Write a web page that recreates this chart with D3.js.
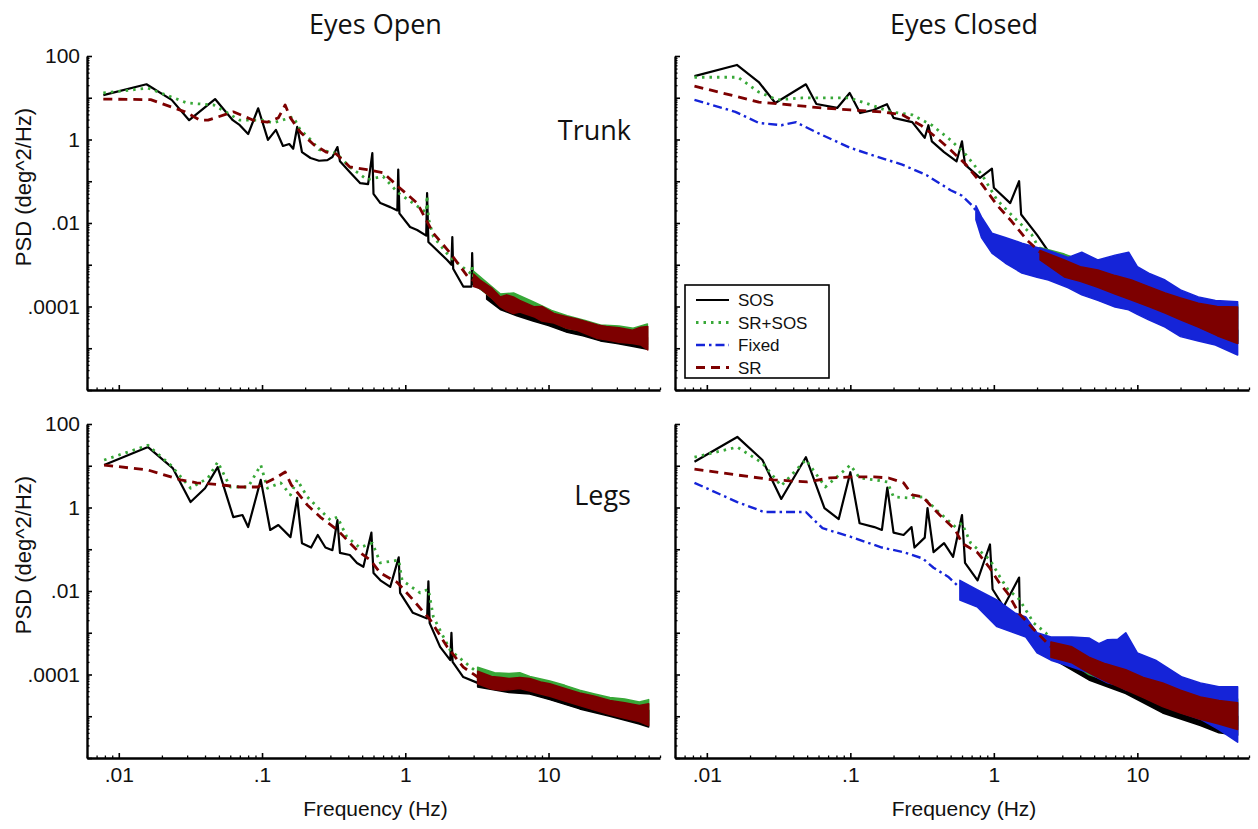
<!DOCTYPE html>
<html>
<head>
<meta charset="utf-8">
<script src="https://d3js.org/d3.v7.min.js"></script>
<style>
  body { margin: 0; background: #fff; }
  svg { display: block; }
  .tick text { font-family: "Liberation Sans", Arial, sans-serif; font-size: 21px; fill: #111; }
</style>
</head>
<body>
<svg id="chart" width="1258" height="829"></svg>
<script>
// ---- data (frequency Hz, PSD deg^2/Hz) ----
// line = [f, psd]; band = [f, low, high] for the dense noisy high-frequency part

var openTrunkSOS = [[0.0078,11.6],[0.0156,21],[0.0234,8.9],[0.031,2.9],[0.047,9.3],[0.0625,2.9],[0.07,2.2],[0.08,1.35],[0.094,5.6],[0.11,0.98],[0.125,1.7],[0.14,0.7],[0.155,0.78],[0.165,0.6],[0.176,2.0],[0.19,0.5],[0.218,0.36],[0.25,0.31],[0.286,0.32],[0.31,0.38],[0.336,0.66],[0.35,0.3],[0.414,0.16],[0.485,0.09],[0.55,0.085],[0.589,0.47],[0.6,0.05],[0.67,0.03],[0.785,0.024],[0.88,0.02],[0.893,0.19],[0.91,0.017],[1.08,0.008],[1.21,0.0068],[1.4,0.005],[1.42,0.052],[1.45,0.0035],[1.96,0.0013],[2.1,0.001],[2.13,0.0046],[2.16,0.0008],[2.54,0.0003],[2.9,0.0003],[2.93,0.0019],[2.97,0.00035],[3.72,0.00021]];
var openTrunkSOSBand = [[3.7,1.5e-4,2.6e-4],[4.6,8.5e-5,1.4e-4],[6,6e-5,1e-4],[7.8,4.5e-5,7e-5],[10,3.5e-5,5.5e-5],[13.5,2.4e-5,4e-5],[17.4,2e-5,3.2e-5],[23,1.5e-5,2.6e-5],[30,1.3e-5,2.2e-5],[39,1.1e-5,1.9e-5],[49,9.5e-6,1.8e-5]];
var openTrunkSRSOS = [[0.0078,13],[0.016,17],[0.03,7.5],[0.046,6.7],[0.07,2.9],[0.1,2.9],[0.12,2.5],[0.165,3.5],[0.185,1.7],[0.22,0.97],[0.25,0.57],[0.33,0.47],[0.41,0.22],[0.54,0.11],[0.7,0.13],[0.89,0.053],[1.4,0.018],[1.42,0.045],[1.45,0.013],[1.57,0.0047],[2.06,0.0015],[2.9,6e-4],[2.93,1e-3],[3.0,5e-4]];
var openTrunkSRSOSBand = [[3,3.5e-4,7e-4],[4.6,1.1e-4,2e-4],[5.7,9e-5,2.1e-4],[7.8,6e-5,1.3e-4],[10.5,4.5e-5,8e-5],[13.5,3e-5,6e-5],[18,2.5e-5,4.6e-5],[23,1.8e-5,3.6e-5],[31,1.6e-5,3.4e-5],[39,1.4e-5,3e-5],[49,1.2e-5,3.8e-5]];
var openTrunkSR = [[0.0078,9.3],[0.0167,9],[0.029,4.6],[0.037,2.9],[0.042,2.9],[0.063,4.6],[0.087,2.9],[0.109,2.6],[0.13,3.3],[0.145,6.7],[0.158,3.3],[0.185,1.5],[0.23,0.75],[0.28,0.5],[0.33,0.45],[0.41,0.22],[0.54,0.19],[0.7,0.16],[0.89,0.075],[1.21,0.03],[1.57,0.0057],[2.06,0.0019],[2.75,5e-4],[3.0,4.2e-4]];
var openTrunkSRBand = [[3.0,3e-4,6e-4],[3.33,2.7e-4,4.3e-4],[4,1.6e-4,2.8e-4],[4.59,9.9e-5,1.7e-4],[5.1,8e-5,1.9e-4],[5.68,6.8e-5,1.7e-4],[6.3,7.4e-5,1.4e-4],[7.9,5.7e-5,9.9e-5],[9,4.5e-5,1e-4],[10.9,4e-5,6.8e-5],[13.4,3e-5,5.7e-5],[15.8,2.7e-5,5e-5],[18.4,2.2e-5,4.3e-5],[22,1.7e-5,3.6e-5],[25.3,1.6e-5,3.3e-5],[31,1.4e-5,3.1e-5],[38.6,1.3e-5,2.7e-5],[44,1.2e-5,3.2e-5],[49.3,9.1e-6,3.3e-5]];

var closedTrunkSOS = [[0.0082,33],[0.0162,61],[0.023,23.8],[0.03,7.5],[0.049,21],[0.058,7.1],[0.081,5.7],[0.099,13],[0.117,4.3],[0.145,5.1],[0.18,7],[0.2,3.3],[0.27,2.6],[0.33,1.1],[0.35,2.2],[0.37,0.9],[0.45,0.5],[0.55,0.3],[0.6,0.9],[0.63,0.25],[0.8,0.12],[0.97,0.2],[1.0,0.07],[1.3,0.03],[1.5,0.1],[1.55,0.016],[2.0,5.2e-3],[2.5,1.7e-3]];
var closedTrunkSOSBand = [[2.5,8e-4,2e-3],[3.5,4e-4,9e-4],[5.3,2.1e-4,4.3e-4],[9,1e-4,2.2e-4],[15.6,4.3e-5,9.7e-5],[26,2.4e-5,5.5e-5],[35,1.6e-5,4e-5],[50,1.3e-5,2.7e-5]];
var closedTrunkSRSOS = [[0.0082,31],[0.0165,31],[0.023,13.7],[0.031,8.9],[0.046,9.9],[0.063,9.9],[0.099,9.9],[0.14,6.7],[0.19,4.6],[0.27,3.9],[0.37,2.2],[0.5,0.97],[0.64,0.43],[0.83,0.14],[1.05,0.036],[1.33,0.0155],[1.84,5.2e-3],[2.1,2.2e-3]];
var closedTrunkSRSOSBand = [[2.1,1.5e-3,2.6e-3],[3.1,6e-4,1.8e-3],[5.3,3.3e-4,9e-4],[9.1,1.6e-4,5e-4],[15.6,8e-5,2.4e-4],[26.6,3.6e-5,1.4e-4],[50,1.5e-5,1.1e-4]];
var closedTrunkFixed = [[0.0082,8.9],[0.0158,4.6],[0.023,2.5],[0.033,2.2],[0.042,2.6],[0.046,2.2],[0.063,1.3],[0.1,0.63],[0.14,0.43],[0.23,0.25],[0.34,0.14],[0.5,0.061],[0.6,0.045],[0.7,0.027],[0.75,0.02]];
var closedTrunkFixedBand = [[0.75,0.012,0.026],[0.82,0.0045,0.014],[0.97,0.0019,0.0057],[1.2,0.0011,0.0045],[1.57,6.3e-4,3.3e-3],[2.0,5e-4,2.6e-3],[2.4,4.3e-4,2.2e-3],[3.3,2.8e-4,1.5e-3],[4.1,1.9e-4,2e-3],[5.3,1.4e-4,1.3e-3],[7,9.7e-5,1.7e-3],[8.7,8.3e-5,2e-3],[10,6.5e-5,9e-4],[12,4.8e-5,6.3e-4],[15.6,3.2e-5,4.3e-4],[20,1.9e-5,2.5e-4],[26.6,1.5e-5,1.7e-4],[35,1.2e-5,1.4e-4],[50,6.9e-6,1.3e-4]];
var closedTrunkSR = [[0.0082,19],[0.0165,10.5],[0.023,7.9],[0.039,6.7],[0.063,5.7],[0.1,5.1],[0.165,4.6],[0.23,3.9],[0.31,2.2],[0.4,1.1],[0.5,0.56],[0.64,0.25],[0.83,0.083],[1.05,0.027],[1.33,0.011],[1.7,3.9e-3],[2.1,2e-3]];
var closedTrunkSRBand = [[2.1,1.3e-3,2.2e-3],[3.1,5.1e-4,1.3e-3],[4,4e-4,9e-4],[5.3,2.9e-4,7.5e-4],[7,2e-4,5.5e-4],[9.1,1.43e-4,4.3e-4],[12,1e-4,3e-4],[15.6,7e-5,2.1e-4],[20,4.8e-5,1.6e-4],[26.6,3.2e-5,1.2e-4],[36,2e-5,1e-4],[50,1.3e-5,9.7e-5]];

var openLegsSOS = [[0.0079,10.4],[0.016,28],[0.0238,8.8],[0.0317,1.35],[0.04,2.9],[0.049,9.3],[0.063,0.59],[0.073,0.66],[0.08,0.34],[0.098,4.6],[0.114,0.29],[0.13,0.38],[0.158,0.195],[0.176,1.7],[0.19,0.14],[0.22,0.11],[0.245,0.22],[0.277,0.11],[0.31,0.095],[0.336,0.5],[0.35,0.082],[0.41,0.073],[0.46,0.047],[0.51,0.038],[0.58,0.25],[0.6,0.027],[0.67,0.018],[0.785,0.0125],[0.9,0.064],[0.92,0.009],[1.13,0.003],[1.42,0.0022],[1.45,0.017],[1.48,0.0017],[1.75,4.6e-4],[2.06,2.2e-4],[2.1,1e-3],[2.14,2e-4],[2.54,8.7e-5],[3.2,6.3e-5]];
var openLegsSOSBand = [[3.2,5e-5,9e-5],[5.3,3.7e-5,7e-5],[7.4,3.4e-5,6.5e-5],[10.2,2.5e-5,4.5e-5],[16.5,1.5e-5,2.8e-5],[26.8,1e-5,2e-5],[43,6.5e-6,1.4e-5],[50,5.5e-6,1.4e-5]];
var openLegsSRSOS = [[0.0079,13.7],[0.016,31],[0.023,10.4],[0.0317,2.9],[0.042,5.1],[0.049,12.3],[0.06,3.1],[0.08,3.1],[0.098,10.4],[0.109,2.9],[0.135,3.9],[0.158,2],[0.176,4.6],[0.207,1.8],[0.255,0.87],[0.3,0.5],[0.336,0.59],[0.39,0.2],[0.48,0.11],[0.59,0.14],[0.67,0.047],[0.9,0.055],[0.95,0.018],[1.27,0.009],[1.45,0.011],[1.57,0.0024],[2.06,3.8e-4],[3.2,1.1e-4]];
var openLegsSRSOSBand = [[3.2,8e-5,1.5e-4],[4.2,6e-5,1.1e-4],[5.3,5e-5,1.05e-4],[6.3,5.5e-5,1.1e-4],[7.4,4.5e-5,9e-5],[10.2,3.5e-5,7e-5],[13,2.6e-5,5.5e-5],[16.5,2e-5,4.2e-5],[21,1.6e-5,3.4e-5],[26.8,1.3e-5,2.8e-5],[34,1.1e-5,2.6e-5],[43,9e-6,2.2e-5],[50,8e-6,2.5e-5]];
var openLegsSR = [[0.0079,10.4],[0.016,7.9],[0.027,4.6],[0.035,3.9],[0.051,3.5],[0.07,3.1],[0.093,3.1],[0.109,4.1],[0.128,5.4],[0.145,7.1],[0.16,3.5],[0.207,1.15],[0.255,0.59],[0.336,0.29],[0.39,0.17],[0.46,0.095],[0.57,0.055],[0.67,0.027],[0.88,0.016],[1.13,0.0062],[1.5,0.002],[1.96,4.6e-4],[2.54,1.5e-4],[3.2,8.7e-5]];
var openLegsSRBand = [[3.2,6e-5,1.2e-4],[4,4.5e-5,9e-5],[4.7,4.2e-5,8.5e-5],[5.3,4.3e-5,8e-5],[6.3,4.6e-5,8.5e-5],[7.4,4e-5,8e-5],[8.8,3.4e-5,6.6e-5],[10.2,3e-5,6e-5],[13,2.3e-5,4.6e-5],[16.5,1.8e-5,3.6e-5],[21,1.4e-5,3e-5],[26.8,1.1e-5,2.4e-5],[34,9e-6,2.1e-5],[43,7.5e-6,1.8e-5],[50,6e-6,2e-5]];

var closedLegsSOS = [[0.0082,12.5],[0.0163,49],[0.0244,13.7],[0.033,1.6],[0.049,16],[0.066,0.97],[0.083,0.53],[0.1,7],[0.116,0.42],[0.147,0.34],[0.166,0.29],[0.181,3],[0.2,0.25],[0.235,0.22],[0.267,0.34],[0.28,0.11],[0.33,0.19],[0.345,0.97],[0.38,0.085],[0.45,0.14],[0.52,0.066],[0.6,0.66],[0.63,0.047],[0.77,0.018],[0.94,0.13],[0.98,0.011],[1.17,0.0042],[1.5,0.021],[1.52,0.0024],[1.9,1e-3],[2.5,3.4e-4]];
var closedLegsSOSBand = [[2.5,2.5e-4,4e-4],[4.6,7.4e-5,2.2e-4],[8.3,3.5e-5,9e-5],[15,1.2e-5,4.3e-5],[27.5,6e-6,2e-5],[37,4e-6,1.2e-5],[50,3.5e-6,1e-5]];
var closedLegsSRSOS = [[0.0082,16],[0.0163,28],[0.0244,11.6],[0.033,3.3],[0.049,14],[0.067,3.1],[0.1,10.4],[0.116,5.1],[0.147,4.6],[0.181,4.1],[0.2,1.8],[0.25,1.7],[0.32,1.8],[0.42,0.74],[0.54,0.34],[0.6,0.42],[0.69,0.14],[0.94,0.056],[1.1,0.022],[1.25,0.011],[1.5,0.0064],[1.9,0.0017],[2.3,1e-3],[2.5,6.8e-4]];
var closedLegsSRSOSBand = [[2.5,4e-4,7e-4],[4.6,1e-4,3e-4],[8.3,5e-5,1.2e-4],[15,2e-5,6e-5],[27.5,1e-5,3.5e-5],[50,6e-6,2.6e-5]];
var closedLegsFixed = [[0.0082,3.9],[0.0163,1.35],[0.025,0.78],[0.049,0.78],[0.064,0.32],[0.1,0.2],[0.166,0.11],[0.235,0.085],[0.32,0.06],[0.38,0.036],[0.48,0.022],[0.58,0.012]];
var closedLegsFixedBand = [[0.58,0.0061,0.018],[0.77,0.0041,0.0106],[1.05,0.0014,0.0061],[1.4,9.9e-4,0.003],[1.67,7.9e-4,0.0024],[2.0,3.3e-4,1e-3],[2.5,2.2e-4,7.9e-4],[3.5,1.5e-4,7.9e-4],[4.6,1.1e-4,7.5e-4],[5.4,8e-5,5.5e-4],[6.2,6.3e-5,6.8e-4],[7.3,5.5e-5,7e-4],[8.3,4.3e-5,1e-3],[10,3.6e-5,3.3e-4],[13.4,2.1e-5,2.2e-4],[20.5,1.2e-5,8.7e-5],[27.5,8.5e-6,6.3e-5],[37,4.8e-6,5.1e-5],[50,2.4e-6,5.1e-5]];
var closedLegsSR = [[0.0082,8.3],[0.0163,6],[0.029,4.6],[0.05,4.1],[0.072,5.1],[0.1,5.4],[0.147,5.4],[0.185,5.1],[0.235,3.9],[0.27,2],[0.32,1.8],[0.36,1.15],[0.42,0.66],[0.54,0.29],[0.6,0.14],[0.77,0.083],[0.93,0.037],[1.1,0.015],[1.25,0.0088],[1.5,0.0029],[1.9,1.2e-3],[2.5,4.6e-4]];
var closedLegsSRBand = [[2.5,2.6e-4,6e-4],[3.5,1.9e-4,4.6e-4],[4.6,1.1e-4,2.6e-4],[6,7e-5,1.8e-4],[8.3,4.3e-5,1.3e-4],[11,2.8e-5,8.5e-5],[15,1.7e-5,6.3e-5],[20,1.2e-5,4.2e-5],[27.5,8.5e-6,2.9e-5],[37,6.5e-6,2.4e-5],[50,4.8e-6,2.1e-5]];

var seriesNames = ["SOS", "SR+SOS", "Fixed", "SR"];
var colTitles = ["Eyes Open", "Eyes Closed"];
var rowTitles = ["Trunk", "Legs"];
var yTickVals = [1e-4, 1e-2, 1, 100];
var yTickLabels = [".0001", ".01", "1", "100"];
var xTickVals = [0.01, 0.1, 1, 10];
var xTickLabels = [".01", ".1", "1", "10"];
var xDomain = [0.006, 60];
var yDomain = [1e-6, 100];

// ---- layout ----
var colX = [[87, 660], [675, 1249]];
var rowY = [[56, 390], [424, 758]];

var styles = {
  "SOS":    { color: "#000000", dash: null,        width: 2.2 },
  "SR+SOS": { color: "#38a838", dash: "2.5,5",     width: 2.8 },
  "Fixed":  { color: "#1524d8", dash: "9,4,2.5,4", width: 2.4 },
  "SR":     { color: "#7d0000", dash: "9,6",       width: 2.8 }
};

var panels = [
  { col: 0, row: 0, series: [
    { name: "SOS", line: openTrunkSOS, band: openTrunkSOSBand },
    { name: "SR+SOS", line: openTrunkSRSOS, band: openTrunkSRSOSBand },
    { name: "SR", line: openTrunkSR, band: openTrunkSRBand } ] },
  { col: 1, row: 0, series: [
    { name: "SOS", line: closedTrunkSOS, band: closedTrunkSOSBand },
    { name: "SR+SOS", line: closedTrunkSRSOS, band: closedTrunkSRSOSBand },
    { name: "Fixed", line: closedTrunkFixed, band: closedTrunkFixedBand },
    { name: "SR", line: closedTrunkSR, band: closedTrunkSRBand } ] },
  { col: 0, row: 1, series: [
    { name: "SOS", line: openLegsSOS, band: openLegsSOSBand },
    { name: "SR+SOS", line: openLegsSRSOS, band: openLegsSRSOSBand },
    { name: "SR", line: openLegsSR, band: openLegsSRBand } ] },
  { col: 1, row: 1, series: [
    { name: "SOS", line: closedLegsSOS, band: closedLegsSOSBand },
    { name: "SR+SOS", line: closedLegsSRSOS, band: closedLegsSRSOSBand },
    { name: "Fixed", line: closedLegsFixed, band: closedLegsFixedBand },
    { name: "SR", line: closedLegsSR, band: closedLegsSRBand } ] }
];

var svg = d3.select("#chart");

function minorTicks(lo, hi, maxV) {
  var out = [];
  for (var k = lo; k <= hi; k++) {
    for (var m = 2; m <= 9; m++) {
      var v = m * Math.pow(10, k);
      if (v <= maxV * 1.001) out.push(v);
    }
  }
  return out;
}

function labelFor(vals, labels) {
  return function(v) {
    for (var i = 0; i < vals.length; i++) {
      if (Math.abs(Math.log10(v) - Math.log10(vals[i])) < 1e-6) return labels[i];
    }
    return "";
  };
}

function styleAxis(g) {
  g.select(".domain").attr("stroke", "#000").attr("stroke-width", 2.4);
  g.selectAll(".tick line").attr("stroke", "#000").attr("stroke-width", 1.6);
}
function styleMinor(g) {
  g.select(".domain").remove();
  g.selectAll(".tick line").attr("stroke", "#000").attr("stroke-width", 1.3);
}

function drawPanel(p) {
  var x = d3.scaleLog().domain(xDomain).range(colX[p.col]);
  var y = d3.scaleLog().domain(yDomain).range([rowY[p.row][1], rowY[p.row][0]]);
  var g = svg.append("g").attr("class", "panel");

  var area = d3.area()
    .x(function(d) { return x(d[0]); })
    .y0(function(d) { return y(d[1]); })
    .y1(function(d) { return y(d[2]); });
  var line = d3.line()
    .x(function(d) { return x(d[0]); })
    .y(function(d) { return y(d[1]); });

  p.series.forEach(function(s) {
    var st = styles[s.name];
    g.append("path").datum(s.band)
      .attr("d", area)
      .attr("fill", st.color)
      .attr("stroke", st.color)
      .attr("stroke-width", 1.5)
      .attr("stroke-linejoin", "round");
    g.append("path").datum(s.line)
      .attr("d", line)
      .attr("fill", "none")
      .attr("stroke", st.color)
      .attr("stroke-width", st.width)
      .attr("stroke-dasharray", st.dash)
      .attr("stroke-linejoin", "round");
  });

  // y axis: minor ticks, then decade ticks with labels
  var yMinor = minorTicks(-6, 1, 100);
  var yDec = d3.range(-6, 3).map(function(k) { return Math.pow(10, k); });
  svg.append("g").attr("transform", "translate(" + colX[p.col][0] + ",0)")
    .call(d3.axisLeft(y).tickValues(yMinor).tickSize(-2.5).tickSizeOuter(0).tickFormat(""))
    .call(styleMinor);
  svg.append("g").attr("transform", "translate(" + colX[p.col][0] + ",0)")
    .call(d3.axisLeft(y).tickValues(yDec).tickSize(-5).tickSizeOuter(0).tickPadding(7)
      .tickFormat(p.col === 0 ? labelFor(yTickVals, yTickLabels) : function() { return ""; }))
    .call(styleAxis);

  // x axis
  var xMinor = minorTicks(-3, 1, xDomain[1]).filter(function(v) { return v >= xDomain[0] * 0.999; });
  svg.append("g").attr("transform", "translate(0," + rowY[p.row][1] + ")")
    .call(d3.axisBottom(x).tickValues(xMinor).tickSize(-2.5).tickSizeOuter(0).tickFormat(""))
    .call(styleMinor);
  svg.append("g").attr("transform", "translate(0," + rowY[p.row][1] + ")")
    .call(d3.axisBottom(x).tickValues(xTickVals).tickSize(-5).tickSizeOuter(0).tickPadding(9)
      .tickFormat(p.row === 1 ? labelFor(xTickVals, xTickLabels) : function() { return ""; }))
    .call(styleAxis);

  // labels
  if (p.col === 0) {
    var cy = (rowY[p.row][0] + rowY[p.row][1]) / 2 - 36;
    svg.append("text")
      .attr("transform", "translate(31," + cy + ") rotate(-90)")
      .attr("text-anchor", "middle")
      .style("font-family", "'Liberation Sans', Arial, sans-serif")
      .style("font-size", "22px")
      .attr("fill", "#111")
      .text("PSD (deg^2/Hz)");
    svg.append("text")
      .attr("x", 631)
      .attr("y", rowY[p.row][0] + (p.row === 0 ? 84 : 81))
      .attr("text-anchor", "end")
      .style("font-family", "'Open Sans', 'Noto Sans', sans-serif")
      .style("font-size", "27px")
      .attr("fill", "#111")
      .text(rowTitles[p.row]);
  }
  if (p.row === 1) {
    svg.append("text")
      .attr("x", (colX[p.col][0] + colX[p.col][1]) / 2 + 2)
      .attr("y", 816)
      .attr("text-anchor", "middle")
      .style("font-family", "'Liberation Sans', Arial, sans-serif")
      .style("font-size", "21px")
      .attr("fill", "#111")
      .text("Frequency (Hz)");
  }
  if (p.row === 0) {
    svg.append("text")
      .attr("x", (colX[p.col][0] + colX[p.col][1]) / 2 + 2)
      .attr("y", 34)
      .attr("text-anchor", "middle")
      .style("font-family", "'Open Sans', 'Noto Sans', sans-serif")
      .style("font-size", "27px")
      .attr("fill", "#111")
      .text(colTitles[p.col]);
  }
}

panels.forEach(drawPanel);

// legend in Eyes Closed / Trunk panel
var lg = svg.append("g").attr("transform", "translate(685,285)");
lg.append("rect").attr("width", 144).attr("height", 93)
  .attr("fill", "#fff").attr("stroke", "#000").attr("stroke-width", 1.6);
seriesNames.forEach(function(n, i) {
  var st = styles[n];
  var yy = 15 + i * 22.5;
  lg.append("line").attr("x1", 11).attr("x2", 44).attr("y1", yy).attr("y2", yy)
    .attr("stroke", st.color).attr("stroke-width", st.width)
    .attr("stroke-dasharray", st.dash);
  lg.append("text").attr("x", 53).attr("y", yy + 6)
    .style("font-family", "'Liberation Sans', Arial, sans-serif")
    .style("font-size", "17px").attr("fill", "#111")
    .text(n);
});
</script>
</body>
</html>
